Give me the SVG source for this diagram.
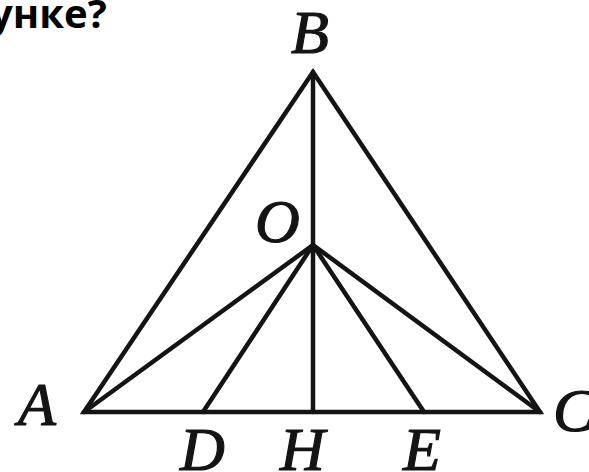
<svg xmlns="http://www.w3.org/2000/svg" width="589" height="472" viewBox="0 0 589 472">
<style>
.l{stroke:#141414;stroke-width:4.5;stroke-linecap:round;stroke-linejoin:miter;fill:none}
.t{font-family:"Liberation Serif",serif;font-style:italic;font-size:62px;fill:#141414;stroke:#141414;stroke-width:1.2}
.h{font-family:"Open Sans","Liberation Sans",sans-serif;font-weight:bold;font-size:40px;fill:#000}
</style>
<rect width="589" height="472" fill="#fff"/>
<text class="h" x="-10" y="28">унке?</text>
<g id="connectors">
<polygon class="l" points="84,412 313,72 540,412"/>
<line class="l" x1="313" y1="72" x2="313" y2="412"/>
<line class="l" x1="84" y1="412" x2="313" y2="245"/>
<line class="l" x1="540" y1="412" x2="313" y2="245"/>
<line class="l" x1="203" y1="412" x2="313" y2="245"/>
<line class="l" x1="424" y1="412" x2="313" y2="245"/>
</g>
<g id="B"><text class="t" x="291" y="53">B</text></g>
<g id="O"><text class="t" x="255" y="242">O</text></g>
<g id="A"><text class="t" x="18" y="425">A</text></g>
<g id="C"><text class="t" x="553" y="431">C</text></g>
<g id="D"><text class="t" x="180" y="470">D</text></g>
<g id="H"><text class="t" x="280" y="470">H</text></g>
<g id="E"><text class="t" x="403" y="470">E</text></g>
</svg>
